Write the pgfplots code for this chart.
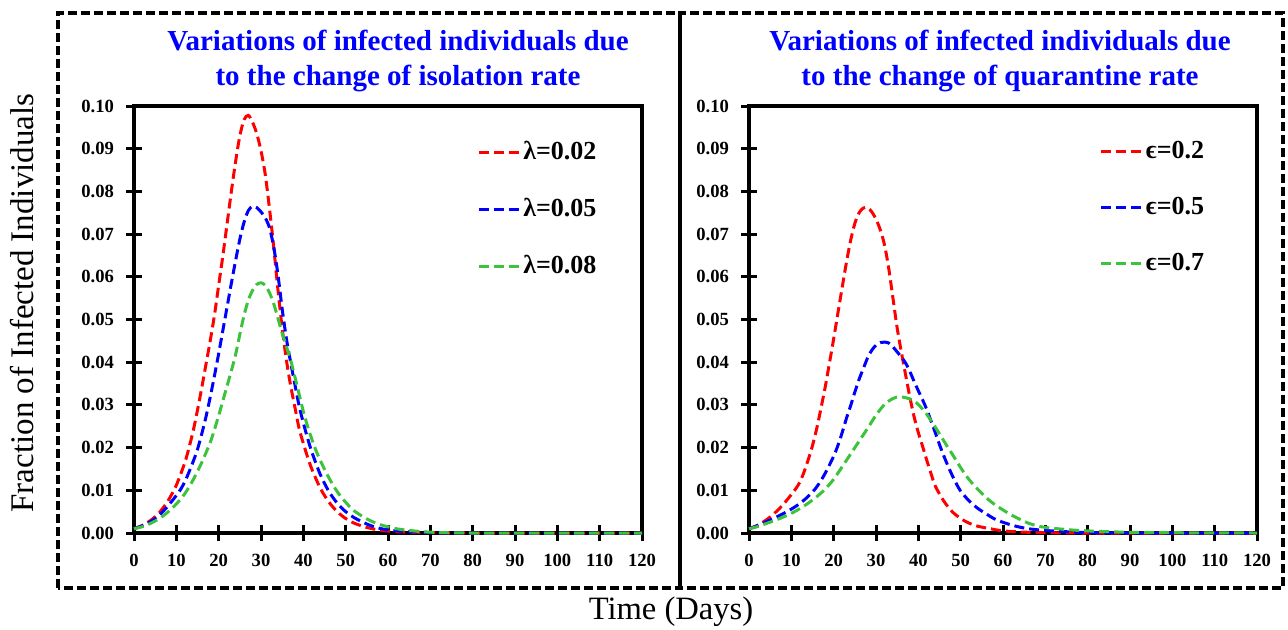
\documentclass[border=0pt]{standalone}
\usepackage{pgfplots}
\pgfplotsset{compat=1.18}
\usepackage{fontspec}
\setmainfont{Liberation Serif}
\definecolor{cred}{RGB}{255,0,0}
\definecolor{cblue}{RGB}{0,0,255}
\definecolor{cgreen}{RGB}{60,195,60}
\pgfplotsset{
 panel/.style={
  scale only axis, width=254pt, height=213.5pt, anchor=south west,
  xmin=0, xmax=120, ymin=0, ymax=0.1,
  xtick={0,10,20,30,40,50,60,70,80,90,100,110,120},
  ytick={0,0.01,0.02,0.03,0.04,0.05,0.06,0.07,0.08,0.09,0.1},
  xtick pos=left, ytick pos=left,
  tick align=center, major tick length=8pt,
  tick style={line width=1.5pt, black},
  axis line style={line width=2pt, line cap=rect},
  ticklabel style={font=\bfseries\fontsize{9.3}{10}\selectfont},
  /pgf/number format/assume math mode=true,
  yticklabel style={/pgf/number format/.cd, fixed, fixed zerofill, precision=2, /tikz/.cd, xshift=-2.5pt},
  xticklabel style={yshift=-3pt},
  scaled y ticks=false,
  clip=false,
  legend cell align=left,
  legend image code/.code={\draw[##1] (0pt,0pt) -- (20.5pt,0pt);},
  legend style={draw=none, fill=none, anchor=north west, inner sep=0pt,
    font=\bfseries\fontsize{13}{15}\selectfont, row sep=13.8pt,
    nodes={inner xsep=1pt}},
 },
 crv/.style={line width=1.5pt, dash pattern=on 5pt off 2.5pt, smooth},
}
\begin{document}
\begin{tikzpicture}
\path[use as bounding box] (0,0) rectangle (644pt,314.5pt);
% dashed frames
\draw[line width=1.7pt, dash pattern=on 4.5pt off 2pt] (29pt,20.5pt) rectangle (340pt,308pt);
\draw[line width=1.7pt, dash pattern=on 4.5pt off 2pt] (340pt,20.5pt) rectangle (641.5pt,308pt);
% titles
\node[anchor=base, align=center, text=cblue, font=\bfseries\fontsize{14.5}{17.5}\selectfont] at (199pt,272pt) {Variations of infected individuals due\\to the change of isolation rate};
\node[anchor=base, align=center, text=cblue, font=\bfseries\fontsize{14.5}{17.5}\selectfont] at (500pt,272pt) {Variations of infected individuals due\\to the change of quarantine rate};
% axis labels
\node[rotate=90, font=\fontsize{16.5}{19}\selectfont] at (11pt,163pt) {Fraction of Infected Individuals};
\node[font=\fontsize{16.3}{19}\selectfont] at (335.5pt,8.5pt) {Time (Days)};

\begin{axis}[panel, at={(67pt,48pt)}, legend style={at={(0.675,0.927)}}]
\addplot[crv, cred] table {
0 0.0010
2 0.0018
4 0.0030
6 0.0048
8 0.0075
10 0.0112
12 0.0165
13 0.0200
14 0.0240
15 0.0288
16 0.0340
17 0.0395
18 0.0450
19 0.0510
20 0.0580
21 0.0650
22 0.0725
23 0.0800
24 0.0870
25 0.0930
26 0.0968
27 0.0978
28 0.0962
29 0.0935
30 0.0895
31 0.0840
32 0.0760
33 0.0670
34 0.0570
35 0.0480
36 0.0405
37 0.0345
38 0.0295
39 0.0245
40 0.0210
41 0.0178
42 0.0150
44 0.0105
46 0.0073
48 0.0050
50 0.0034
52 0.0023
55 0.0013
58 0.0007
62 0.0003
70 0.0001
80 0.0000
120 0.0000
};
\addlegendentry{λ=0.02}
\addplot[crv, cblue] table {
0 0.0010
2 0.0017
4 0.0027
6 0.0042
8 0.0063
10 0.0088
11 0.0102
12 0.0120
13 0.0143
14 0.0168
15 0.0196
16 0.0232
17 0.0272
18 0.0318
19 0.0368
20 0.0420
21 0.0475
22 0.0530
23 0.0585
24 0.0638
25 0.0688
26 0.0728
27 0.0755
28 0.0765
29 0.0762
30 0.0752
31 0.0738
32 0.0715
33 0.0670
34 0.0605
35 0.0525
36 0.0455
37 0.0400
38 0.0348
39 0.0298
40 0.0258
41 0.0222
42 0.0190
44 0.0137
46 0.0098
48 0.0070
50 0.0050
52 0.0036
55 0.0021
58 0.0011
62 0.0005
70 0.0001
80 0.0000
120 0.0000
};
\addlegendentry{λ=0.05}
\addplot[crv, cgreen] table {
0 0.0010
2 0.0015
4 0.0023
6 0.0034
8 0.0049
10 0.0068
12 0.0092
14 0.0125
16 0.0165
18 0.0212
19 0.0242
20 0.0275
21 0.0310
22 0.0345
23 0.0380
24 0.0418
25 0.0465
26 0.0510
27 0.0545
28 0.0568
29 0.0582
30 0.0586
31 0.0580
32 0.0563
33 0.0537
34 0.0503
35 0.0468
36 0.0437
37 0.0405
38 0.0366
39 0.0325
40 0.0285
41 0.0250
42 0.0220
43 0.0193
44 0.0170
46 0.0130
48 0.0097
50 0.0072
52 0.0052
55 0.0033
58 0.0020
62 0.0010
66 0.0005
70 0.0002
80 0.0000
120 0.0000
};
\addlegendentry{λ=0.08}
\end{axis}

\begin{axis}[panel, at={(374.5pt,48pt)}, legend style={at={(0.69,0.927)}}]
\addplot[crv, cred] table {
0 0.0010
2 0.0018
4 0.0030
6 0.0046
8 0.0066
10 0.0090
11 0.0103
12 0.0119
13 0.0143
14 0.0172
15 0.0205
16 0.0245
17 0.0292
18 0.0342
19 0.0398
20 0.0455
21 0.0515
22 0.0575
23 0.0633
24 0.0685
25 0.0725
26 0.0750
27 0.0761
28 0.0762
29 0.0752
30 0.0735
31 0.0710
32 0.0675
33 0.0620
34 0.0550
35 0.0480
36 0.0423
37 0.0370
38 0.0318
39 0.0272
40 0.0235
41 0.0203
42 0.0170
43 0.0139
44 0.0110
46 0.0075
48 0.0050
50 0.0034
52 0.0023
54 0.0016
57 0.0010
60 0.0005
65 0.0002
70 0.0001
80 0.0000
120 0.0000
};
\addlegendentry{ϵ=0.2}
\addplot[crv, cblue] table {
0 0.0010
2 0.0017
4 0.0026
6 0.0035
8 0.0045
10 0.0056
12 0.0069
14 0.0086
16 0.0108
18 0.0140
20 0.0180
21 0.0205
22 0.0235
23 0.0268
24 0.0298
25 0.0330
26 0.0360
27 0.0385
28 0.0410
29 0.0428
30 0.0440
31 0.0446
32 0.0447
33 0.0445
34 0.0436
35 0.0424
36 0.0412
37 0.0398
38 0.0378
39 0.0355
40 0.0333
41 0.0312
42 0.0289
43 0.0262
44 0.0235
45 0.0207
46 0.0181
47 0.0157
48 0.0135
49 0.0115
50 0.0098
52 0.0075
54 0.0058
56 0.0045
58 0.0033
60 0.0025
63 0.0016
66 0.0010
70 0.0006
75 0.0003
80 0.0001
90 0.0000
120 0.0000
};
\addlegendentry{ϵ=0.5}
\addplot[crv, cgreen] table {
0 0.0010
2 0.0015
4 0.0022
6 0.0029
8 0.0037
10 0.0046
12 0.0057
14 0.0070
16 0.0085
18 0.0103
20 0.0126
22 0.0155
24 0.0185
26 0.0215
28 0.0245
30 0.0276
32 0.0301
34 0.0315
35.5 0.0319
37 0.0317
38 0.0314
39 0.0309
40 0.0301
41 0.0290
42 0.0278
43 0.0263
44 0.0248
45 0.0232
46 0.0216
47 0.0200
48 0.0185
50 0.0153
52 0.0125
54 0.0103
56 0.0083
58 0.0067
60 0.0054
62 0.0042
64 0.0032
66 0.0023
68 0.0017
70 0.0013
74 0.0009
78 0.0006
85 0.0003
95 0.0001
120 0.0000
};
\addlegendentry{ϵ=0.7}
\end{axis}
\end{tikzpicture}
\end{document}
